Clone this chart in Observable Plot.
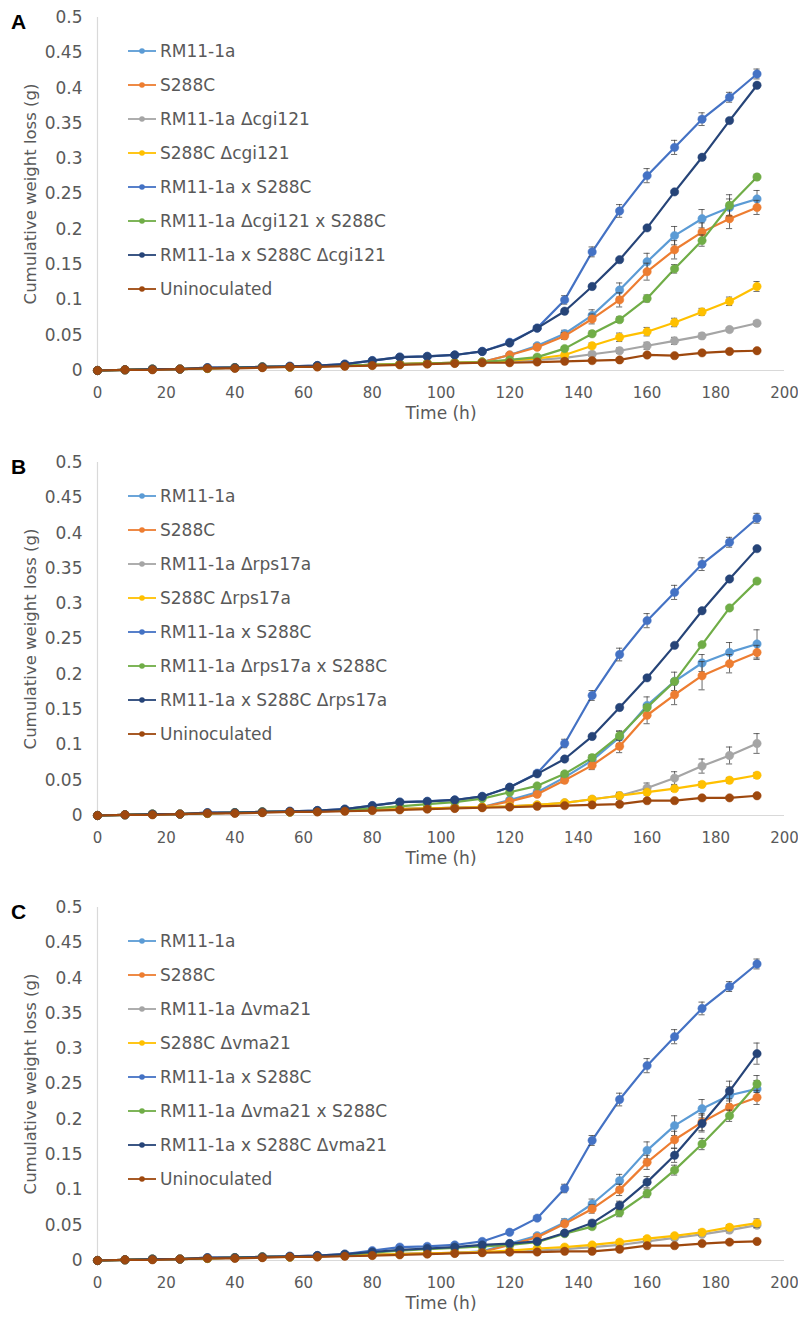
<!DOCTYPE html>
<html>
<head>
<meta charset="utf-8">
<script src="https://cdn.jsdelivr.net/npm/d3@7"></script>
<script src="https://cdn.jsdelivr.net/npm/@observablehq/plot@0.6"></script>
<style>
  html, body { margin: 0; padding: 0; background: #fff; }
  body { width: 798px; font-family: "DejaVu Sans", Verdana, sans-serif; }
  .panel { position: relative; width: 798px; }
  .letter { position: absolute; left: 11px; top: 10px; font: bold 21px "Liberation Sans", Arial, sans-serif; color: #000; }
  .legend { position: absolute; left: 128px; top: 34px; font-size: 17px; color: #595959; }
  .legend .row { height: 34px; line-height: 34px; display: flex; align-items: center; white-space: nowrap; }
  .legend svg { margin-right: 4px; }
</style>
</head>
<body>
<div id="root"></div>
<script>
// ---- data ----
const times = [0, 8, 16, 24, 32, 40, 48, 56, 64, 72, 80, 88, 96, 104, 112, 120, 128, 136, 144, 152, 160, 168, 176, 184, 192];
const xTicks = [0, 20, 40, 60, 80, 100, 120, 140, 160, 180, 200];
const yTicks = [0, 0.05, 0.1, 0.15, 0.2, 0.25, 0.3, 0.35, 0.4, 0.45, 0.5];
const seriesColors = ["#5B9BD5", "#ED7D31", "#A5A5A5", "#FFC000", "#4472C4", "#70AD47", "#264478", "#9E480E"];

const namesA = ["RM11-1a", "S288C", "RM11-1a Δcgi121", "S288C Δcgi121", "RM11-1a x S288C", "RM11-1a Δcgi121 x S288C", "RM11-1a x S288C Δcgi121", "Uninoculated"];
const namesB = ["RM11-1a", "S288C", "RM11-1a Δrps17a", "S288C Δrps17a", "RM11-1a x S288C", "RM11-1a Δrps17a x S288C", "RM11-1a x S288C Δrps17a", "Uninoculated"];
const namesC = ["RM11-1a", "S288C", "RM11-1a Δvma21", "S288C Δvma21", "RM11-1a x S288C", "RM11-1a Δvma21 x S288C", "RM11-1a x S288C Δvma21", "Uninoculated"];

// Panel A values
const A_rm = [0,0.001,0.002,0.002,0.003,0.004,0.005,0.005,0.006,0.007,0.008,0.009,0.010,0.011,0.012,0.022,0.035,0.052,0.078,0.114,0.154,0.191,0.215,0.231,0.243];
const A_s288 = [0,0.001,0.002,0.002,0.003,0.004,0.005,0.005,0.006,0.007,0.008,0.009,0.010,0.011,0.012,0.022,0.033,0.049,0.073,0.100,0.140,0.171,0.196,0.215,0.231];
const A_rmDel = [0,0.001,0.002,0.002,0.003,0.004,0.005,0.005,0.006,0.007,0.008,0.009,0.010,0.011,0.012,0.013,0.015,0.018,0.023,0.028,0.035,0.042,0.049,0.058,0.067];
const A_sDel = [0,0.001,0.002,0.002,0.003,0.004,0.005,0.005,0.006,0.007,0.008,0.009,0.010,0.011,0.012,0.014,0.017,0.022,0.035,0.047,0.055,0.068,0.083,0.098,0.119];
const A_cross = [0,0.001,0.002,0.002,0.004,0.004,0.005,0.006,0.007,0.009,0.014,0.019,0.020,0.022,0.027,0.040,0.060,0.100,0.168,0.226,0.276,0.316,0.356,0.387,0.420];
const A_crossRmDel = [0,0.001,0.002,0.002,0.003,0.004,0.005,0.005,0.006,0.007,0.008,0.009,0.010,0.011,0.012,0.015,0.019,0.031,0.052,0.072,0.102,0.144,0.184,0.234,0.274];
const A_crossSDel = [0,0.001,0.002,0.002,0.004,0.004,0.005,0.006,0.007,0.009,0.014,0.019,0.020,0.022,0.027,0.039,0.060,0.084,0.119,0.157,0.202,0.253,0.302,0.354,0.404];
const A_uninoc = [0,0.001,0.001,0.002,0.003,0.003,0.004,0.005,0.005,0.006,0.007,0.008,0.009,0.010,0.011,0.011,0.012,0.013,0.014,0.015,0.022,0.021,0.025,0.027,0.028];

// Panel A error bars
const A_rm_e = [0,0,0,0,0,0,0,0,0,0,0,0,0,0,0,0.002,0.003,0.005,0.008,0.010,0.012,0.013,0.013,0.012,0.012];
const A_s288_e = [0,0,0,0,0,0,0,0,0,0,0,0,0,0,0,0.002,0.003,0.005,0.007,0.010,0.012,0.013,0.013,0.014,0.010];
const A_rmDel_e = [0,0,0,0,0,0,0,0,0,0,0,0,0,0,0,0,0.001,0.002,0.003,0.004,0.005,0.005,0.004,0.003,0.003];
const A_sDel_e = [0,0,0,0,0,0,0,0,0,0,0,0,0,0,0,0.001,0.002,0.003,0.004,0.006,0.006,0.006,0.005,0.006,0.007];
const A_cross_e = [0,0,0,0,0,0,0,0,0,0,0,0,0,0,0,0.002,0.003,0.006,0.007,0.009,0.010,0.010,0.009,0.007,0.007];
const A_crossRmDel_e = [0,0,0,0,0,0,0,0,0,0,0,0,0,0,0,0.001,0.002,0.003,0.004,0.004,0.005,0.006,0.008,0.015,0.004];
const A_crossSDel_e = [0,0,0,0,0,0,0,0,0,0,0,0,0,0,0,0.001,0.001,0.002,0.002,0.002,0.002,0.002,0.002,0.002,0.002];
const A_uninoc_e = [0,0,0,0,0,0,0,0,0,0,0,0,0,0,0,0.001,0.001,0.001,0.001,0.001,0.002,0.002,0.002,0.002,0.002];

// Panel B values
const B_rm = [0,0.001,0.002,0.002,0.003,0.004,0.005,0.005,0.006,0.007,0.008,0.009,0.010,0.011,0.012,0.022,0.033,0.054,0.078,0.111,0.156,0.190,0.216,0.231,0.243];
const B_s288 = [0,0.001,0.002,0.002,0.003,0.004,0.005,0.005,0.006,0.007,0.008,0.009,0.010,0.011,0.012,0.020,0.030,0.050,0.071,0.098,0.142,0.171,0.198,0.215,0.231];
const B_rmDel = [0,0.001,0.002,0.002,0.003,0.004,0.005,0.005,0.006,0.007,0.008,0.009,0.010,0.011,0.012,0.013,0.015,0.018,0.023,0.028,0.039,0.053,0.070,0.085,0.102];
const B_sDel = [0,0.001,0.002,0.002,0.003,0.004,0.005,0.005,0.006,0.007,0.008,0.009,0.010,0.011,0.012,0.013,0.015,0.018,0.023,0.028,0.033,0.038,0.044,0.050,0.057];
const B_cross = [0,0.001,0.002,0.002,0.004,0.004,0.005,0.006,0.007,0.009,0.014,0.019,0.020,0.022,0.027,0.040,0.060,0.102,0.170,0.228,0.276,0.316,0.356,0.387,0.421];
const B_crossRmDel = [0,0.001,0.002,0.002,0.003,0.004,0.005,0.005,0.006,0.008,0.010,0.013,0.016,0.019,0.024,0.033,0.042,0.059,0.082,0.113,0.153,0.190,0.242,0.294,0.332];
const B_crossSDel = [0,0.001,0.002,0.002,0.004,0.004,0.005,0.006,0.007,0.009,0.014,0.019,0.020,0.022,0.027,0.040,0.059,0.080,0.112,0.153,0.195,0.241,0.290,0.335,0.378];
const B_uninoc = [0,0.001,0.001,0.002,0.003,0.003,0.004,0.005,0.005,0.006,0.007,0.008,0.009,0.010,0.011,0.012,0.013,0.014,0.015,0.016,0.021,0.021,0.025,0.025,0.028];

const B_rm_e = [0,0,0,0,0,0,0,0,0,0,0,0,0,0,0,0.002,0.003,0.005,0.007,0.009,0.012,0.013,0.012,0.014,0.020];
const B_s288_e = [0,0,0,0,0,0,0,0,0,0,0,0,0,0,0,0.002,0.003,0.004,0.006,0.009,0.012,0.014,0.020,0.013,0.010];
const B_rmDel_e = [0,0,0,0,0,0,0,0,0,0,0,0,0,0,0,0.001,0.001,0.002,0.003,0.005,0.007,0.009,0.010,0.012,0.014];
const B_sDel_e = [0,0,0,0,0,0,0,0,0,0,0,0,0,0,0,0.001,0.001,0.002,0.003,0.004,0.004,0.004,0.004,0.004,0.004];
const B_cross_e = [0,0,0,0,0,0,0,0,0,0,0,0,0,0,0,0.002,0.003,0.006,0.007,0.009,0.010,0.010,0.009,0.007,0.007];
const B_crossRmDel_e = [0,0,0,0,0,0,0,0,0,0,0,0,0,0,0,0.001,0.002,0.003,0.004,0.006,0.004,0.003,0.003,0.002,0.002];
const B_crossSDel_e = [0,0,0,0,0,0,0,0,0,0,0,0,0,0,0,0.001,0.001,0.002,0.002,0.002,0.002,0.002,0.002,0.002,0.002];
const B_uninoc_e = [0,0,0,0,0,0,0,0,0,0,0,0,0,0,0,0.001,0.001,0.001,0.001,0.001,0.002,0.002,0.002,0.002,0.002];

// Panel C values
const C_rm = [0,0.001,0.002,0.002,0.003,0.004,0.005,0.005,0.006,0.007,0.008,0.009,0.010,0.011,0.013,0.024,0.035,0.054,0.080,0.113,0.156,0.191,0.215,0.234,0.243];
const C_s288 = [0,0.001,0.002,0.002,0.003,0.004,0.005,0.005,0.006,0.007,0.008,0.009,0.010,0.011,0.012,0.022,0.033,0.052,0.073,0.100,0.139,0.171,0.196,0.217,0.231];
const C_rmDel = [0,0.001,0.002,0.002,0.003,0.004,0.005,0.005,0.006,0.007,0.008,0.009,0.010,0.011,0.012,0.012,0.014,0.016,0.019,0.022,0.027,0.032,0.037,0.043,0.050];
const C_sDel = [0,0.001,0.002,0.002,0.003,0.004,0.005,0.005,0.006,0.007,0.008,0.009,0.010,0.011,0.012,0.014,0.017,0.019,0.022,0.026,0.031,0.035,0.040,0.047,0.053];
const C_cross = [0,0.001,0.002,0.002,0.004,0.004,0.005,0.006,0.007,0.009,0.014,0.019,0.020,0.022,0.027,0.040,0.060,0.102,0.170,0.228,0.276,0.317,0.357,0.388,0.420];
const C_crossRmDel = [0,0.001,0.002,0.002,0.003,0.004,0.005,0.005,0.006,0.008,0.011,0.014,0.016,0.018,0.020,0.022,0.026,0.038,0.048,0.068,0.095,0.128,0.165,0.205,0.250];
const C_crossSDel = [0,0.001,0.002,0.002,0.004,0.004,0.005,0.006,0.007,0.009,0.012,0.015,0.017,0.019,0.022,0.024,0.027,0.039,0.053,0.078,0.111,0.149,0.194,0.240,0.293];
const C_uninoc = [0,0.001,0.001,0.002,0.003,0.003,0.004,0.005,0.005,0.006,0.007,0.008,0.009,0.010,0.011,0.012,0.012,0.013,0.013,0.016,0.021,0.021,0.024,0.026,0.027];

const C_rm_e = [0,0,0,0,0,0,0,0,0,0,0,0,0,0,0,0.002,0.003,0.005,0.007,0.009,0.012,0.014,0.013,0.012,0.012];
const C_s288_e = [0,0,0,0,0,0,0,0,0,0,0,0,0,0,0,0.002,0.003,0.004,0.006,0.008,0.010,0.012,0.012,0.012,0.010];
const C_rmDel_e = [0,0,0,0,0,0,0,0,0,0,0,0,0,0,0,0.001,0.001,0.001,0.002,0.002,0.003,0.003,0.003,0.004,0.004];
const C_sDel_e = [0,0,0,0,0,0,0,0,0,0,0,0,0,0,0,0.001,0.001,0.002,0.002,0.003,0.003,0.003,0.004,0.004,0.006];
const C_cross_e = [0,0,0,0,0,0,0,0,0,0,0,0,0,0,0,0.002,0.003,0.006,0.007,0.009,0.010,0.010,0.009,0.007,0.007];
const C_crossRmDel_e = [0,0,0,0,0,0,0,0,0,0,0,0,0,0,0,0.001,0.002,0.003,0.004,0.006,0.006,0.007,0.008,0.008,0.012];
const C_crossSDel_e = [0,0,0,0,0,0,0,0,0,0,0,0,0,0,0,0.001,0.002,0.003,0.004,0.006,0.008,0.010,0.012,0.014,0.015];
const C_uninoc_e = [0,0,0,0,0,0,0,0,0,0,0,0,0,0,0,0.001,0.001,0.001,0.001,0.001,0.002,0.002,0.002,0.002,0.002];

// ---- drawing ----
const root = document.getElementById("root");

function makePanel(letter, names, values, errors, height) {
  const rows = [];
  names.forEach((name, i) => {
    times.forEach((t, j) => rows.push({t, v: values[i][j], e: errors[i][j], s: name}));
  });
  const marks = [
    Plot.ruleX([0], {y1: 0, y2: 0.5, stroke: "#d9d9d9", strokeWidth: 1.2}),
    Plot.ruleY([0], {x1: 0, x2: 200, stroke: "#d9d9d9", strokeWidth: 1.2})
  ];
  names.forEach((name) => {
    const d = rows.filter(r => r.s === name);
    const de = d.filter(r => r.e > 0);
    marks.push(
      Plot.line(d, {x: "t", y: "v", stroke: "s", strokeWidth: 2.2}),
      Plot.ruleX(de, {x: "t", y1: r => r.v - r.e, y2: r => r.v + r.e, stroke: "#3a3a3a", strokeWidth: 1, strokeOpacity: 0.75}),
      Plot.ruleY(de, {y: r => r.v + r.e, x1: r => r.t - 0.9, x2: r => r.t + 0.9, stroke: "#3a3a3a", strokeWidth: 1, strokeOpacity: 0.75}),
      Plot.ruleY(de, {y: r => r.v - r.e, x1: r => r.t - 0.9, x2: r => r.t + 0.9, stroke: "#3a3a3a", strokeWidth: 1, strokeOpacity: 0.75}),
      Plot.dot(d, {x: "t", y: "v", fill: "s", r: 4.2, stroke: "s", strokeWidth: 0.5})
    );
  });
  marks.push(
    Plot.axisX({ticks: xTicks, tickSize: 0, tickPadding: 17, label: null, fontSize: 15, fill: "#595959"}),
    Plot.axisY({ticks: yTicks, tickSize: 0, tickPadding: 15, tickFormat: d => String(d), label: null, fontSize: 17, fill: "#595959"}),
    Plot.text(["Cumulative weight loss (g)"], {frameAnchor: "left", dx: -67, rotate: -90, textAnchor: "middle", fontSize: 16.5, fill: "#595959"}),
    Plot.text(["Time (h)"], {frameAnchor: "bottom", dy: 48, textAnchor: "middle", fontSize: 17, fill: "#595959"})
  );
  const svg = Plot.plot({
    width: 798,
    height,
    marginLeft: 97,
    marginRight: 14,
    marginTop: 17,
    marginBottom: height - 370,
    style: {fontFamily: "'DejaVu Sans', Verdana, sans-serif", fontSize: "17px", background: "#fff", overflow: "visible"},
    x: {domain: [0, 200]},
    y: {domain: [0, 0.5]},
    color: {domain: names, range: seriesColors},
    marks
  });
  const panel = document.createElement("div");
  panel.className = "panel";
  panel.style.height = height + "px";
  panel.appendChild(svg);
  const lt = document.createElement("div");
  lt.className = "letter";
  lt.textContent = letter;
  panel.appendChild(lt);
  const lg = document.createElement("div");
  lg.className = "legend";
  names.forEach((name, i) => {
    const row = document.createElement("div");
    row.className = "row";
    row.innerHTML = `<svg width="28" height="34"><line x1="0" x2="28" y1="17" y2="17" stroke="${seriesColors[i]}" stroke-width="1.8"/><circle cx="14" cy="17" r="2.8" fill="${seriesColors[i]}"/></svg><span></span>`;
    row.querySelector("span").textContent = name;
    lg.appendChild(row);
  });
  panel.appendChild(lg);
  root.appendChild(panel);
}

makePanel("A", namesA,
  [A_rm, A_s288, A_rmDel, A_sDel, A_cross, A_crossRmDel, A_crossSDel, A_uninoc],
  [A_rm_e, A_s288_e, A_rmDel_e, A_sDel_e, A_cross_e, A_crossRmDel_e, A_crossSDel_e, A_uninoc_e], 445);
makePanel("B", namesB,
  [B_rm, B_s288, B_rmDel, B_sDel, B_cross, B_crossRmDel, B_crossSDel, B_uninoc],
  [B_rm_e, B_s288_e, B_rmDel_e, B_sDel_e, B_cross_e, B_crossRmDel_e, B_crossSDel_e, B_uninoc_e], 445);
makePanel("C", namesC,
  [C_rm, C_s288, C_rmDel, C_sDel, C_cross, C_crossRmDel, C_crossSDel, C_uninoc],
  [C_rm_e, C_s288_e, C_rmDel_e, C_sDel_e, C_cross_e, C_crossRmDel_e, C_crossSDel_e, C_uninoc_e], 430);
</script>
</body>
</html>
